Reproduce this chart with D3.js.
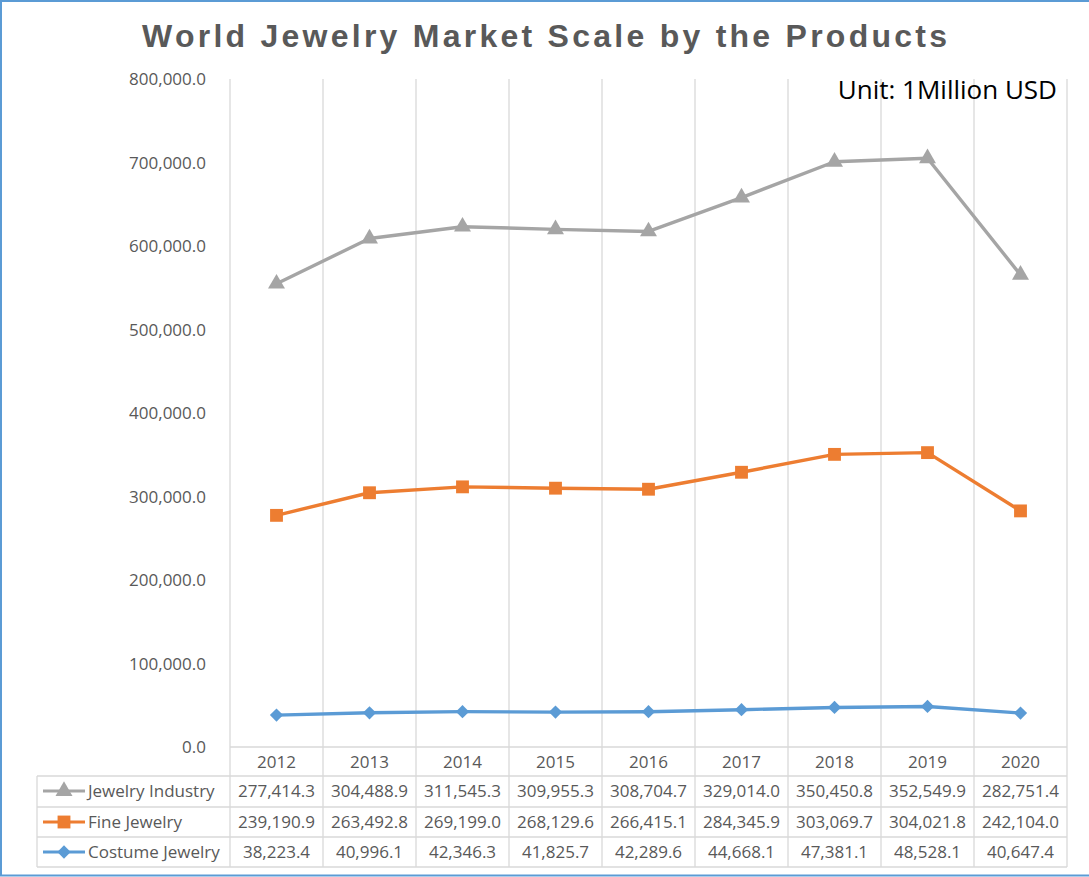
<!DOCTYPE html>
<html>
<head>
<meta charset="utf-8">
<script src="https://cdn.jsdelivr.net/npm/d3@7"></script>
<style>
  html, body { margin: 0; padding: 0; background: #fff; }
  svg { display: block; font-family: "Open Sans", "Noto Sans", sans-serif; }
</style>
</head>
<body>
<svg id="chart" width="1089" height="877"></svg>
<script>
// Yearly market scale (million USD) per product group
const years = ["2012", "2013", "2014", "2015", "2016", "2017", "2018", "2019", "2020"];
const jewelryIndustry = [277414.3, 304488.9, 311545.3, 309955.3, 308704.7, 329014.0, 350450.8, 352549.9, 282751.4];
const fineJewelry = [239190.9, 263492.8, 269199.0, 268129.6, 266415.1, 284345.9, 303069.7, 304021.8, 242104.0];
const costumeJewelry = [38223.4, 40996.1, 42346.3, 41825.7, 42289.6, 44668.1, 47381.1, 48528.1, 40647.4];
const yTicks = [0, 100000, 200000, 300000, 400000, 500000, 600000, 700000, 800000];

const seriesNames = ["Jewelry Industry", "Fine Jewelry", "Costume Jewelry"];
const seriesColors = { "Jewelry Industry": "#A5A5A5", "Fine Jewelry": "#ED7D31", "Costume Jewelry": "#5B9BD5" };
const seriesValues = { "Jewelry Industry": jewelryIndustry, "Fine Jewelry": fineJewelry, "Costume Jewelry": costumeJewelry };

// marker shapes: triangle, square, and a square turned 45° for the diamond
const markerPath = {
  "Jewelry Industry": d3.symbol().type(d3.symbolTriangle).size(125)(),
  "Fine Jewelry": d3.symbol().type(d3.symbolSquare).size(165)(),
  "Costume Jewelry": d3.symbol().type(d3.symbolSquare).size(88)()
};
const markerRotate = { "Jewelry Industry": 0, "Fine Jewelry": 0, "Costume Jewelry": 45 };

const svg = d3.select("#chart");
const W = 1089, H = 877;

// outer frame
svg.append("rect").attr("x", 1).attr("y", 1).attr("width", W + 4).attr("height", H - 2.5)
  .attr("fill", "#fff").attr("stroke", "#5B9BD5").attr("stroke-width", 2);

const plot = { left: 230, right: 1067, top: 79, bottom: 747 };
const gridColor = "#D9D9D9";
const textColor = "#595959";

const x = d3.scaleBand().domain(years).range([plot.left, plot.right]).padding(0);
const y = d3.scaleLinear().domain([0, 800000]).range([plot.bottom, plot.top]);

// stacked lines: costume at the base, fine and industry accumulated on top
const rows = years.map((yr, i) => ({
  year: yr,
  "Costume Jewelry": costumeJewelry[i],
  "Fine Jewelry": fineJewelry[i],
  "Jewelry Industry": jewelryIndustry[i]
}));
const stacked = d3.stack().keys(["Costume Jewelry", "Fine Jewelry", "Jewelry Industry"])(rows);

// table geometry
const table = { left: 37, rowTops: [776, 807, 837], bottom: 867 };

// vertical gridlines / column boundaries, running through the category table
const bounds = years.map(yr => x(yr)).concat([plot.right]);
svg.append("g").selectAll("line").data(bounds).join("line")
  .attr("x1", d => d).attr("x2", d => d)
  .attr("y1", plot.top).attr("y2", table.bottom)
  .attr("stroke", gridColor).attr("stroke-width", 1.3);

// horizontal axis line and table row lines
svg.append("line").attr("x1", plot.left).attr("x2", plot.right)
  .attr("y1", plot.bottom).attr("y2", plot.bottom).attr("stroke", gridColor).attr("stroke-width", 1.3);
[table.rowTops[0], table.rowTops[1], table.rowTops[2], table.bottom].forEach(yy => {
  svg.append("line").attr("x1", table.left).attr("x2", plot.right)
    .attr("y1", yy).attr("y2", yy).attr("stroke", gridColor).attr("stroke-width", 1.3);
});
svg.append("line").attr("x1", table.left).attr("x2", table.left)
  .attr("y1", table.rowTops[0]).attr("y2", table.bottom).attr("stroke", gridColor).attr("stroke-width", 1.3);

// y axis labels
const yAxis = d3.axisLeft(y).tickValues(yTicks).tickSize(0).tickPadding(0)
  .tickFormat(d => d3.format(",.1f")(d));
const gy = svg.append("g").attr("transform", `translate(206,0)`).call(yAxis);
gy.select(".domain").remove();
gy.selectAll("text").attr("font-size", 17).attr("fill", textColor)
  .attr("font-family", "'Open Sans', sans-serif").attr("dy", "0.35em");

// category labels (x axis)
const xAxis = d3.axisBottom(x).tickSize(0).tickPadding(0);
const gx = svg.append("g").attr("transform", `translate(0,${plot.bottom})`).call(xAxis);
gx.select(".domain").remove();
gx.selectAll("text").attr("font-size", 17).attr("fill", textColor)
  .attr("font-family", "'Open Sans', sans-serif").attr("y", 21).attr("dy", 0);

// lines and markers
const line = d3.line().x(d => x(d.data.year) + x.bandwidth() / 2).y(d => y(d[1]));
const layerByName = {};
stacked.forEach(s => { layerByName[s.key] = s; });

["Costume Jewelry", "Fine Jewelry", "Jewelry Industry"].forEach(name => {
  const layer = layerByName[name];
  const g = svg.append("g");
  g.append("path").datum(layer).attr("d", line)
    .attr("fill", "none").attr("stroke", seriesColors[name]).attr("stroke-width", 3.4)
    .attr("stroke-linejoin", "round");
  g.selectAll("path.m").data(layer).join("path").attr("class", "m")
    .attr("transform", d => `translate(${x(d.data.year) + x.bandwidth() / 2},${y(d[1])}) rotate(${markerRotate[name]})`)
    .attr("d", markerPath[name])
    .attr("fill", seriesColors[name]);
});

// data table rows with legend keys
seriesNames.forEach((name, r) => {
  const top = table.rowTops[r];
  const cy = top + 15;
  const g = svg.append("g");
  g.append("line").attr("x1", 43).attr("x2", 85).attr("y1", cy).attr("y2", cy)
    .attr("stroke", seriesColors[name]).attr("stroke-width", 3);
  g.append("path").attr("transform", `translate(64,${cy}) rotate(${markerRotate[name]})`)
    .attr("d", markerPath[name])
    .attr("fill", seriesColors[name]);
  g.append("text").attr("x", 88).attr("y", cy + 6).attr("font-size", 17)
    .attr("fill", textColor).text(name);
  g.selectAll("text.v").data(seriesValues[name]).join("text").attr("class", "v")
    .attr("x", (d, i) => x(years[i]) + x.bandwidth() / 2).attr("y", cy + 6)
    .attr("text-anchor", "middle").attr("font-size", 17).attr("fill", textColor)
    .text(d => d3.format(",.1f")(d));
});

// title
svg.append("text").attr("x", 142).attr("y", 47)
  .style("font-family", "'Liberation Sans', Arial, sans-serif").style("font-weight", "bold")
  .style("font-size", "32px").attr("fill", textColor)
  .attr("textLength", 805).attr("lengthAdjust", "spacing")
  .text("World Jewelry Market Scale by the Products");

// unit note
svg.append("text").attr("x", 1057).attr("y", 99).attr("text-anchor", "end")
  .attr("font-size", 26).attr("fill", "#000")
  .text("Unit: 1Million USD");
</script>
</body>
</html>
